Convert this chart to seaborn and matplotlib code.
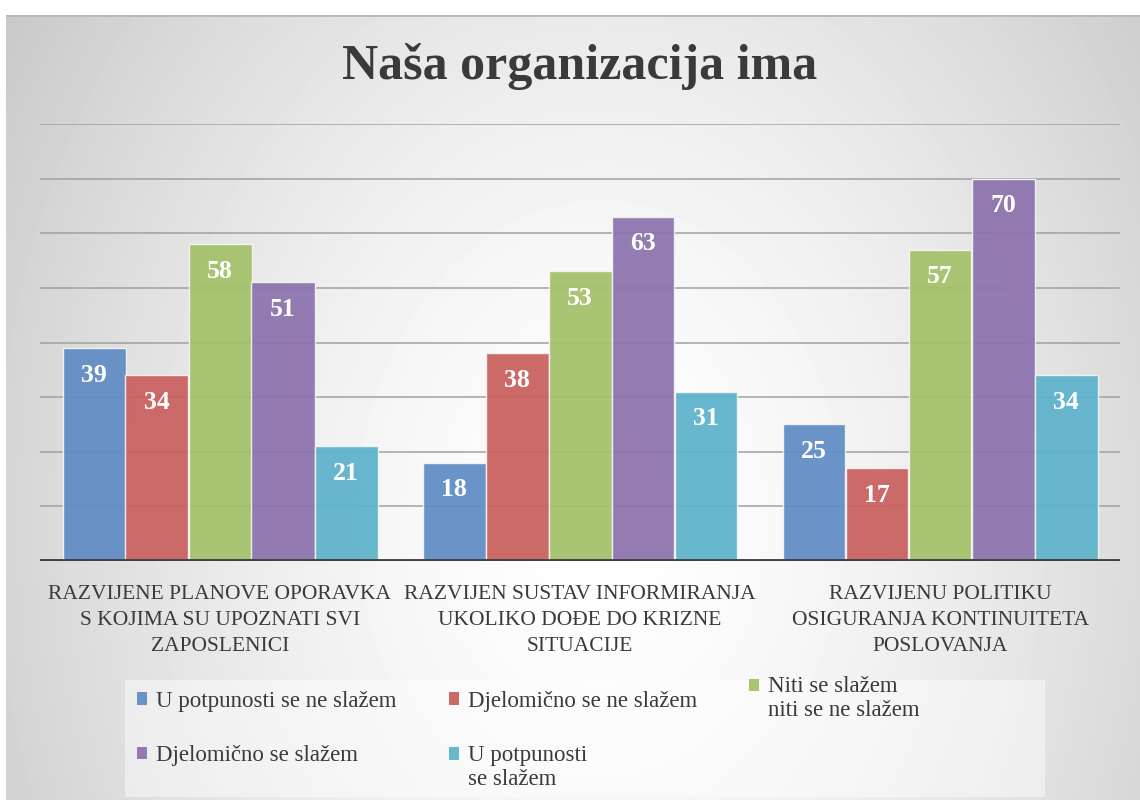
import numpy as np
import pandas as pd
import matplotlib
matplotlib.use("Agg")
import matplotlib.pyplot as plt
from matplotlib.patches import Rectangle, Patch
import seaborn as sns

# ==========================================
# 1. PODACI
# ==========================================
kategorije = [
    "RAZVIJENE PLANOVE OPORAVKA\nS KOJIMA SU UPOZNATI SVI\nZAPOSLENICI",
    "RAZVIJEN SUSTAV INFORMIRANJA\nUKOLIKO DOĐE DO KRIZNE\nSITUACIJE",
    "RAZVIJENU POLITIKU\nOSIGURANJA KONTINUITETA\nPOSLOVANJA",
]
odgovori = [
    "U potpunosti se ne slažem",
    "Djelomično se ne slažem",
    "Niti se slažem\nniti se ne slažem",
    "Djelomično se slažem",
    "U potpunosti\nse slažem",
]
potpuno_ne = [39, 18, 25]
djelomicno_ne = [34, 38, 17]
niti_niti = [58, 53, 57]
djelomicno_da = [51, 63, 70]
potpuno_da = [21, 31, 34]

boje = ["#618DC4", "#C9615F", "#A4C16A", "#8D74AD", "#5EB3CC"]

serie = [potpuno_ne, djelomicno_ne, niti_niti, djelomicno_da, potpuno_da]
redovi = []
for odg, vrijednosti in zip(odgovori, serie):
    for kat, v in zip(kategorije, vrijednosti):
        redovi.append({"kategorija": kat, "odgovor": odg, "vrijednost": v})
df = pd.DataFrame(redovi)

# ==========================================
# 2. FIGURA I POZADINA
# ==========================================
sns.set_theme(style="white")
plt.rcParams["font.family"] = ["Liberation Serif", "DejaVu Serif"]
TEKST = "#3a3a3a"

W, H = 1140, 800
fig = plt.figure(figsize=(W / 100, H / 100), dpi=100)
fig.patch.set_facecolor("white")

# radijalni gradijent (sivo -> bijelo)
bg = fig.add_axes([6 / W, 0, 1 - 6 / W, 1 - 15 / H], zorder=-10)
yy, xx = np.mgrid[15:H, 6:W]
r = np.sqrt(((xx - 600) / 610.0) ** 2 + ((yy - 520) / 800.0) ** 2)
sivo = np.clip(1.0 - 0.17 * r ** 1.5, 0.76, 1.0)
bg.imshow(sivo, cmap="gray", vmin=0, vmax=1, aspect="auto",
          extent=[0, 1, 0, 1], interpolation="bilinear")
bg.axhline(1, color="#b8b8b8", lw=2)
bg.set_axis_off()

# ==========================================
# 3. STUPCI
# ==========================================
ax = fig.add_axes([40 / W, 1 - 561 / H, 1080 / W, 437 / H])
ax.set_facecolor("none")

sns.barplot(data=df, x="kategorija", y="vrijednost", hue="odgovor",
            hue_order=odgovori, palette=boje, saturation=1, width=0.875,
            gap=0, edgecolor="#f4f4f4", linewidth=1, alpha=0.94,
            legend=False, errorbar=None, ax=ax, zorder=3)

ax.set_ylim(0, 80)
ax.set_xlim(-0.5, 2.5)
ax.set_yticks(range(0, 81, 10))
ax.yaxis.grid(True, color="#9c9c9c", lw=1.3, alpha=0.8, zorder=0)
ax.set_axisbelow(True)
ax.tick_params(axis="y", left=False, labelleft=False)
ax.tick_params(axis="x", bottom=False, pad=11)
for lab in ax.get_xticklabels():
    lab.set_fontsize(15.5)
    lab.set_color(TEKST)
    lab.set_linespacing(1.5)
for s in ax.spines.values():
    s.set_visible(False)
ax.axhline(0, color="#404040", lw=3.5, zorder=5)
ax.set_xlabel("")
ax.set_ylabel("")

# vrijednosti na vrhu stupaca
for p in ax.patches:
    h = p.get_height()
    ax.annotate(f"{int(h)}", (p.get_x() + p.get_width() / 2, h),
                xytext=(0, -19.5), textcoords="offset points",
                ha="center", va="center", color="white",
                fontsize=18.5, fontweight="bold", zorder=6)

# naslov
fig.text(580 / W, 1 - 66 / H, "Naša organizacija ima", ha="center",
         va="center", fontsize=36, fontweight="bold", color=TEKST)

# ==========================================
# 4. LEGENDA
# ==========================================
fig.patches.append(Rectangle((125 / W, 3 / H), 920 / W, 117 / H,
                             transform=fig.transFigure, facecolor="white",
                             alpha=0.45, edgecolor="none", zorder=-5))

# poredak po recima (matplotlib puni po stupcima)
redoslijed = [0, 3, 1, 4, 2]
rucke = [Patch(facecolor=boje[i], alpha=0.94, edgecolor="none") for i in redoslijed]
oznake = [odgovori[i] for i in redoslijed]
fs_leg = 16.5
razmak_redaka = 1.2
leg = fig.legend(rucke, oznake, loc="upper left",
                 bbox_to_anchor=(137 / W, 1 - 676 / H), ncol=3,
                 frameon=False, fontsize=fs_leg, handlelength=0.45,
                 handleheight=0.45, handletextpad=0.4, columnspacing=2.25,
                 labelspacing=1.45, borderpad=0, borderaxespad=0)
for t in leg.get_texts():
    t.set_color(TEKST)
    t.set_linespacing(razmak_redaka)
# kvadratić uz prvi redak kod dvorednih oznaka
for rk, ozn in zip(leg.legend_handles, oznake):
    if "\n" in ozn:
        rk.set_y(rk.get_y() + 0.5 * razmak_redaka * fs_leg)

plt.savefig("out.png", dpi=100)
plt.close()
